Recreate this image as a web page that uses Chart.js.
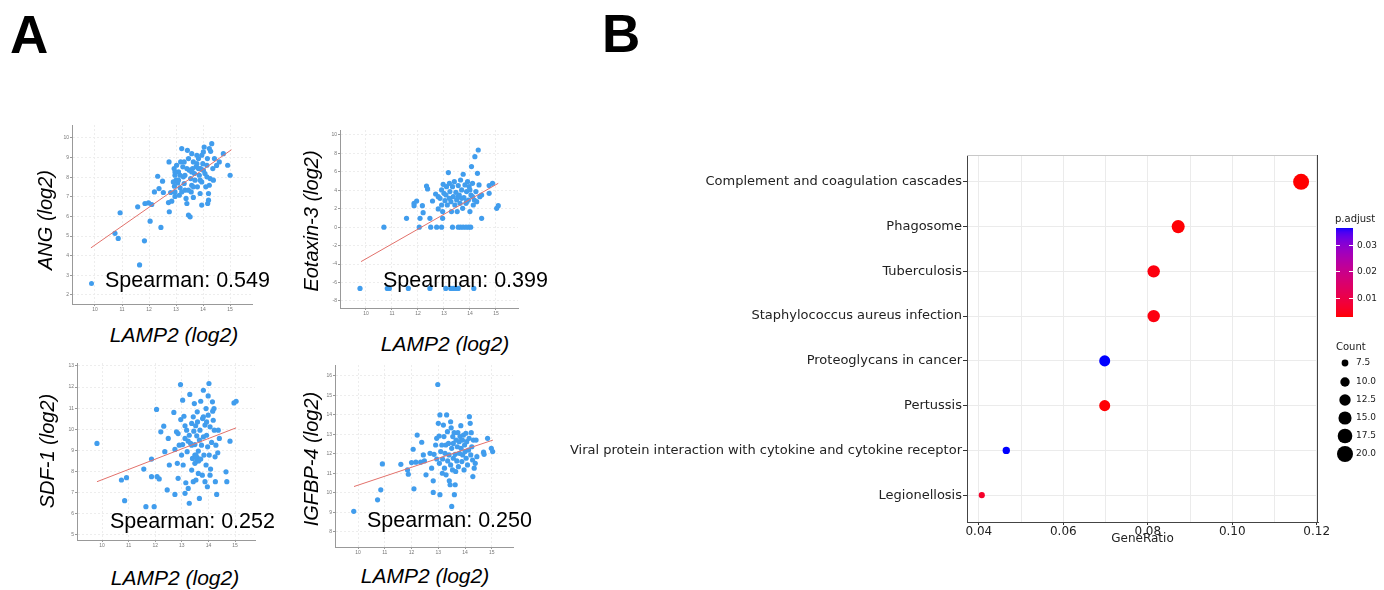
<!DOCTYPE html>
<html>
<head>
<meta charset="utf-8">
<script src="https://cdn.jsdelivr.net/npm/chart.js@4.4.1/dist/chart.umd.min.js"></script>
<style>
  body { margin: 0; background: #fff; width: 1384px; height: 590px; position: relative; overflow: hidden;
         font-family: "Liberation Sans", Arial, sans-serif; }
  canvas { position: absolute; }
  .lbl { position: absolute; white-space: nowrap; color: #000; line-height: 1; }
  .panel { font-weight: bold; font-size: 53px; line-height: 53px; }
  .ax { font-style: italic; font-size: 21px; transform: translate(-50%, -50%); }
  .ax.v { font-size: 20px; transform: translate(-50%, -50%) rotate(-90deg); }
  .sp { font-size: 21.5px; transform: translateY(-50%); }
  .dot { position: absolute; width: 5px; height: 5px; border-radius: 50%; background: #419ded; }
</style>
</head>
<body>
<div class="lbl panel" style="left:10px;top:8px">A</div>
<div class="lbl panel" style="left:602px;top:7px">B</div>

<canvas id="angChart"></canvas>
<canvas id="eotChart"></canvas>
<canvas id="sdfChart"></canvas>
<canvas id="igfChart"></canvas>
<canvas id="keggChart"></canvas>

<div class="lbl ax v" style="left:45px;top:220px">ANG (log2)</div>
<div class="lbl ax" style="left:174px;top:334px">LAMP2 (log2)</div>
<div class="lbl ax v" style="left:311px;top:221px">Eotaxin-3 (log2)</div>
<div class="lbl ax" style="left:445px;top:343px">LAMP2 (log2)</div>
<div class="lbl ax v" style="left:47px;top:451px">SDF-1 (log2)</div>
<div class="lbl ax" style="left:175px;top:577px">LAMP2 (log2)</div>
<div class="lbl ax v" style="left:311px;top:459px">IGFBP-4 (log2)</div>
<div class="lbl ax" style="left:425px;top:575px">LAMP2 (log2)</div>

<span class="dot" style="left:89px;top:281px"></span>
<div class="lbl sp" style="left:105px;top:281px">Spearman: 0.549</div>
<div class="lbl sp" style="left:383px;top:281px">Spearman: 0.399</div>
<div class="lbl sp" style="left:110px;top:522px">Spearman: 0.252</div>
<div class="lbl sp" style="left:367px;top:521px">Spearman: 0.250</div>

<script>
// ---- panel A: LAMP2 vs protein, [x, y] in log2 ----
const angPoints = [
  [11.65,3.53],[10.93,6.19],[10.74,5.14],[10.86,4.88],[11.83,4.76],[11.58,6.49],[11.85,6.66],[11.98,6.69],
  [12.10,6.61],[12.04,5.76],[12.44,5.44],[12.20,7.25],[12.32,8.05],[12.37,7.42],[12.50,7.80],[12.53,7.22],
  [12.72,6.71],[12.75,6.24],[12.74,8.78],[12.80,7.22],[12.84,6.78],[12.94,7.54],[12.96,7.02],[12.93,8.44],
  [12.96,8.10],[13.00,7.85],[13.02,8.61],[13.09,8.27],[13.06,7.71],[13.12,7.08],[13.15,7.46],[13.21,9.46],
  [13.17,8.78],[13.25,8.53],[13.27,8.02],[13.30,7.68],[13.33,7.34],[13.37,6.92],[13.40,6.66],[13.42,9.37],
  [13.46,8.95],[13.49,8.36],[13.46,6.07],[13.52,5.98],[13.54,7.93],[13.58,7.59],[13.56,7.25],[13.58,9.20],
  [13.64,8.78],[13.64,6.97],[13.68,8.19],[13.70,7.85],[13.74,8.53],[13.77,9.12],[13.79,7.51],[13.83,8.95],
  [13.86,8.10],[13.89,7.17],[13.91,8.44],[13.95,6.58],[13.95,7.76],[13.99,8.69],[14.01,9.29],[14.04,9.54],
  [14.07,8.19],[14.10,7.51],[14.14,8.61],[14.16,8.95],[14.17,6.66],[14.20,6.83],[14.23,9.46],[14.26,7.93],
  [14.28,9.32],[14.32,9.71],[14.36,8.44],[14.38,7.85],[14.42,8.95],[14.60,8.78],[14.75,9.20],[14.91,8.61],
  [15.00,8.10],[12.96,7.25],[13.30,8.78],[13.40,8.44],[13.15,8.10],[13.61,8.44],[13.83,8.44],[14.01,8.36],
  [13.89,7.85],[13.64,7.51],[13.46,7.34],[13.21,7.25],[14.14,8.02],[13.95,9.12],[13.77,8.69],[13.58,8.27],
  [13.33,8.10],[13.09,7.85],[12.90,7.76],[12.96,8.27],[14.50,8.60],[14.23,7.59],[14.20,7.17]
];
const angFit = [[9.85,4.40],[15.05,9.40]];

const eotaxinPoints = [
  [9.77,-6.64],[10.82,-6.64],[10.90,-6.64],[11.63,-6.64],[12.46,-6.64],[13.07,-6.64],[13.26,-6.64],[13.36,-6.64],
  [13.46,-6.64],[13.55,-6.64],[14.15,-6.64],
  [10.69,0],[12.05,0],[12.49,0],[12.72,0],[12.91,0],[13.33,0],[13.55,0],[13.64,0],[13.74,0],[13.85,0],[13.95,0],[14.03,0],
  [11.56,0.96],[12.08,0.96],[12.46,0.96],[12.95,0.96],[14.45,0.96],
  [11.85,2.59],[11.95,2.84],[11.85,2.34],[12.17,2.34],[12.20,1.58],[12.33,4.47],[12.37,4.15],[12.56,2.84],
  [12.68,3.60],[12.78,1.98],[12.85,3.13],[12.91,2.41],[12.95,1.69],[12.97,4.65],[13.00,3.67],[13.04,2.88],
  [13.08,3.49],[13.13,2.41],[13.17,5.92],[13.21,4.76],[13.23,3.86],[13.27,2.77],[13.29,1.69],[13.33,4.40],
  [13.36,3.31],[13.40,4.94],[13.42,2.41],[13.46,3.78],[13.49,2.95],[13.51,1.69],[13.55,4.51],[13.59,3.49],
  [13.62,2.59],[13.64,5.12],[13.68,4.04],[13.72,2.05],[13.74,5.74],[13.77,3.20],[13.81,4.58],[13.85,2.59],
  [13.87,3.86],[13.91,4.94],[13.94,2.95],[13.97,4.40],[14.00,1.69],[14.04,3.49],[14.06,6.57],[14.10,4.76],
  [14.13,2.41],[14.19,7.65],[14.23,3.86],[14.26,2.77],[14.29,5.84],[14.32,8.37],[14.35,4.58],[14.38,3.31],
  [14.45,3.49],[14.74,4.51],[14.74,3.67],[14.87,4.76],[15.03,2.05],[15.09,2.34],[12.91,4.04],[12.78,3.31],
  [13.10,4.40],[13.21,3.13],[13.55,3.31],[13.68,3.13],[13.87,2.77],[14.00,4.04],[14.10,3.31],[14.17,2.95]
];
const eotaxinFit = [[9.81,-3.73],[15.09,4.76]];

const sdfPoints = [
  [9.81,9.33],[10.73,7.60],[10.92,7.71],[10.85,6.62],[11.57,8.12],[11.65,6.34],[11.96,6.34],[11.86,8.59],
  [11.86,7.76],[12.05,10.94],[12.07,7.76],[12.15,7.65],[12.21,9.88],[12.32,10.15],[12.36,8.94],[12.45,7.13],
  [12.49,9.57],[12.53,8.31],[12.70,10.80],[12.74,9.05],[12.74,6.92],[12.80,9.88],[12.83,8.39],[12.86,9.80],
  [12.86,7.68],[12.90,9.25],[12.95,12.12],[12.96,10.46],[12.99,8.78],[13.03,11.38],[13.03,9.28],[13.05,8.31],
  [13.08,10.62],[13.12,10.17],[13.12,9.57],[13.12,6.97],[13.15,7.47],[13.18,9.96],[13.20,8.94],[13.24,7.20],
  [13.28,9.72],[13.28,6.50],[13.30,11.65],[13.33,9.33],[13.37,10.28],[13.37,8.07],[13.40,8.62],[13.43,10.59],
  [13.43,7.52],[13.45,9.91],[13.47,11.22],[13.49,9.28],[13.49,8.78],[13.52,10.17],[13.53,7.60],[13.56,9.69],
  [13.56,8.50],[13.58,10.83],[13.59,10.35],[13.62,8.97],[13.62,7.91],[13.66,9.49],[13.66,6.73],[13.68,9.96],
  [13.71,11.33],[13.71,8.59],[13.74,9.25],[13.77,7.83],[13.78,10.51],[13.81,11.85],[13.81,9.64],[13.83,8.78],
  [13.87,10.20],[13.87,7.52],[13.91,10.98],[13.91,8.31],[13.93,9.72],[13.96,7.28],[13.97,9.17],[13.99,11.58],
  [13.99,10.67],[14.02,12.17],[14.03,8.78],[14.06,10.12],[14.06,7.83],[14.08,8.12],[14.12,9.38],[14.15,11.30],
  [14.16,10.86],[14.18,10.43],[14.21,10.98],[14.22,9.96],[14.25,8.70],[14.26,7.52],[14.28,9.25],[14.31,6.92],
  [14.35,8.89],[14.37,9.96],[14.41,9.57],[14.66,7.99],[14.69,7.52],[14.81,9.44],[14.96,11.25],[15.04,11.33],
  [13.58,8.66],[13.53,8.78],[13.63,8.50],[13.49,8.39],[13.37,9.25],[13.24,9.44],[13.93,10.35],[13.81,10.59]
];
const sdfFit = [[9.81,7.52],[15.04,10.07]];

const igfbpPoints = [
  [9.84,9.06],[10.73,9.65],[10.85,10.16],[10.91,11.49],[11.60,11.47],[11.85,11.18],[11.88,10.96],[12.00,11.56],
  [12.06,12.24],[12.09,10.21],[12.16,11.58],[12.21,12.97],[12.34,11.58],[12.38,12.60],[12.44,11.95],[12.48,11.64],
  [12.54,10.93],[12.69,12.03],[12.75,11.27],[12.81,10.62],[12.81,10.03],[12.84,11.98],[12.90,12.46],[12.94,12.80],
  [12.94,11.74],[12.98,15.56],[13.00,13.57],[13.03,12.92],[13.04,11.52],[13.06,14.00],[13.06,9.91],[13.09,12.12],
  [13.13,12.46],[13.15,11.01],[13.16,11.74],[13.19,13.48],[13.21,12.89],[13.23,11.27],[13.25,12.03],[13.28,12.46],
  [13.29,10.93],[13.31,14.00],[13.34,13.14],[13.35,11.64],[13.38,12.54],[13.40,11.95],[13.41,10.62],[13.44,10.42],
  [13.46,13.65],[13.46,11.44],[13.48,13.34],[13.50,12.29],[13.50,9.31],[13.53,11.18],[13.54,12.89],[13.56,11.78],
  [13.56,12.54],[13.59,13.09],[13.60,9.91],[13.63,11.98],[13.63,10.42],[13.65,11.10],[13.66,12.71],[13.69,11.64],
  [13.71,12.37],[13.73,13.09],[13.75,11.35],[13.78,12.63],[13.79,12.03],[13.81,12.89],[13.84,13.45],[13.85,12.29],
  [13.88,11.61],[13.90,12.71],[13.91,11.95],[13.94,12.97],[13.96,11.18],[13.98,12.46],[14.00,12.12],[14.03,13.06],
  [14.04,11.78],[14.06,12.63],[14.09,11.44],[14.13,12.20],[14.15,12.80],[14.16,13.91],[14.19,13.57],[14.21,11.95],
  [14.23,13.09],[14.25,12.37],[14.28,11.69],[14.29,10.84],[14.31,12.71],[14.34,11.27],[14.38,11.52],[14.41,12.71],
  [14.44,11.86],[14.69,12.09],[14.71,11.98],[14.84,12.80],[14.98,12.29],[15.03,12.12]
];
const igfbpFit = [[9.85,10.33],[15.04,12.71]];

const lampTicks = [10, 11, 12, 13, 14, 15];
const angTicks = [2, 3, 4, 5, 6, 7, 8, 9, 10];
const eotaxinTicks = [-8, -6, -4, -2, 0, 2, 4, 6, 8, 10];
const sdfTicks = [5, 6, 7, 8, 9, 10, 11, 12, 13];
const igfbpTicks = [8, 9, 10, 11, 12, 13, 14, 15, 16];

// ---- panel B: KEGG enrichment ----
const pathways = [
  'Complement and coagulation cascades', 'Phagosome', 'Tuberculosis', 'Staphylococcus aureus infection',
  'Proteoglycans in cancer', 'Pertussis', 'Viral protein interaction with cytokine and cytokine receptor',
  'Legionellosis'
];
const geneRatio = [0.1163, 0.0872, 0.0814, 0.0814, 0.0698, 0.0698, 0.0465, 0.0407];
const geneCount = [20, 15, 14, 14, 12, 12, 8, 7];
const pAdjust = [0.0028, 0.0030, 0.0036, 0.0036, 0.0364, 0.0030, 0.0364, 0.0062];
const ratioTicks = [0.04, 0.05, 0.06, 0.07, 0.08, 0.09, 0.10, 0.11, 0.12];
const pLegendTicks = [0.01, 0.02, 0.03];
const countLegend = [7.5, 10.0, 12.5, 15.0, 17.5, 20.0];
const pRange = [0.0028, 0.0364];

Chart.defaults.font.family = '"Liberation Sans", Arial, sans-serif';

function scatterPanel(id, area, pts, fit, xr, yr, xTicks, yTicks) {
  const c = document.getElementById(id);
  const padL = 20, padB = 12;
  c.style.left = (area[0] - padL) + 'px';
  c.style.top = (area[1] - 5) + 'px';
  c.width = area[2] - area[0] + padL + 5;
  c.height = area[3] - area[1] + 5 + padB;
  const axisStyle = {
    grid: { color: '#ededed', tickLength: 2, tickColor: '#999' },
    border: { color: '#999', dash: [2, 2] },
    ticks: { font: { size: 5 }, color: '#777', padding: 1, autoSkip: false, maxRotation: 0 }
  };
  new Chart(c, {
    type: 'scatter',
    data: {
      datasets: [
        { data: pts.map(p => ({ x: p[0], y: p[1] })), backgroundColor: '#419ded', borderWidth: 0,
          pointRadius: 2.6, order: 2 },
        { type: 'line', data: fit.map(p => ({ x: p[0], y: p[1] })), borderColor: '#e2716b',
          borderWidth: 1, pointRadius: 0, order: 1 }
      ]
    },
    options: {
      responsive: false, animation: false,
      plugins: { legend: { display: false }, tooltip: { enabled: false } },
      layout: { padding: { top: 5, right: 5, left: 0, bottom: 0 } },
      scales: {
        x: Object.assign({ type: 'linear', min: xr[0], max: xr[1],
          afterFit: s => { s.height = padB; },
          afterBuildTicks: s => { s.ticks = xTicks.map(v => ({ value: v })); } }, axisStyle),
        y: Object.assign({ type: 'linear', min: yr[0], max: yr[1],
          afterFit: s => { s.width = padL; },
          afterBuildTicks: s => { s.ticks = yTicks.map(v => ({ value: v })); } }, axisStyle)
      }
    }
  });
}

scatterPanel('angChart', [72, 125, 252, 304], angPoints, angFit, [9.15, 15.81], [1.54, 10.66], lampTicks, angTicks);
scatterPanel('eotChart', [340, 130, 518, 308], eotaxinPoints, eotaxinFit, [9.0, 15.85], [-8.76, 10.54], lampTicks, eotaxinTicks);
scatterPanel('sdfChart', [77, 363, 255, 540], sdfPoints, sdfFit, [9.06, 15.75], [4.76, 13.14], lampTicks, sdfTicks);
scatterPanel('igfChart', [335, 365, 513, 547], igfbpPoints, igfbpFit, [9.14, 15.79], [7.23, 16.56], lampTicks, igfbpTicks);

// red -> blue gradient interpolated in CIELAB, like ggplot
function toLin(c) { c /= 255; return c <= 0.04045 ? c / 12.92 : Math.pow((c + 0.055) / 1.055, 2.4); }
function toSrgb(c) {
  c = c <= 0.0031308 ? 12.92 * c : 1.055 * Math.pow(c, 1 / 2.4) - 0.055;
  return Math.round(Math.max(0, Math.min(1, c)) * 255);
}
function rgbToLab(r, g, b) {
  const R = toLin(r), G = toLin(g), B = toLin(b);
  const X = (0.4124 * R + 0.3576 * G + 0.1805 * B) / 0.95047;
  const Y = 0.2126 * R + 0.7152 * G + 0.0722 * B;
  const Z = (0.0193 * R + 0.1192 * G + 0.9505 * B) / 1.08883;
  const f = t => t > 0.008856 ? Math.cbrt(t) : 7.787 * t + 16 / 116;
  return [116 * f(Y) - 16, 500 * (f(X) - f(Y)), 200 * (f(Y) - f(Z))];
}
function labToRgb(L, a, b) {
  const fy = (L + 16) / 116, fx = fy + a / 500, fz = fy - b / 200;
  const inv = t => t * t * t > 0.008856 ? t * t * t : (t - 16 / 116) / 7.787;
  const X = inv(fx) * 0.95047, Y = inv(fy), Z = inv(fz) * 1.08883;
  const R = 3.2406 * X - 1.5372 * Y - 0.4986 * Z;
  const G = -0.9689 * X + 1.8758 * Y + 0.0415 * Z;
  const B = 0.0557 * X - 0.2040 * Y + 1.0570 * Z;
  return 'rgb(' + toSrgb(R) + ',' + toSrgb(G) + ',' + toSrgb(B) + ')';
}
const labLow = rgbToLab(255, 0, 0), labHigh = rgbToLab(0, 0, 255);
function pColor(p) {
  const t = Math.max(0, Math.min(1, (p - pRange[0]) / (pRange[1] - pRange[0])));
  return labToRgb(labLow[0] + (labHigh[0] - labLow[0]) * t,
                  labLow[1] + (labHigh[1] - labLow[1]) * t,
                  labLow[2] + (labHigh[2] - labLow[2]) * t);
}
function countRadius(n) { return Math.sqrt(4.2 * n - 20); }

const keggLegend = {
  id: 'keggLegend',
  afterDraw(chart) {
    const ctx = chart.ctx;
    const a = chart.chartArea;
    ctx.save();
    // panel border
    ctx.lineWidth = 1;
    ctx.strokeStyle = '#c8c8c8';
    ctx.beginPath(); ctx.moveTo(a.left, a.top + 0.5); ctx.lineTo(a.right, a.top + 0.5); ctx.stroke();
    ctx.strokeStyle = '#444';
    ctx.beginPath(); ctx.moveTo(a.right - 0.5, a.top); ctx.lineTo(a.right - 0.5, a.bottom); ctx.stroke();

    // colour bar
    const bx = 776, bw = 17, bTop = 88, bBot = 177;
    const pToY = p => bBot - (p - pRange[0]) / (pRange[1] - pRange[0]) * (bBot - bTop);
    for (let y = bTop; y < bBot; y++) {
      const p = pRange[0] + (bBot - y - 0.5) / (bBot - bTop) * (pRange[1] - pRange[0]);
      ctx.fillStyle = pColor(p);
      ctx.fillRect(bx, y, bw, 1);
    }
    ctx.strokeStyle = '#fff';
    ctx.font = '9px "DejaVu Sans"';
    ctx.fillStyle = '#1a1a1a';
    ctx.textBaseline = 'middle';
    ctx.textAlign = 'left';
    pLegendTicks.forEach(p => {
      const y = Math.round(pToY(p)) + 0.5;
      ctx.beginPath(); ctx.moveTo(bx, y); ctx.lineTo(bx + 4, y); ctx.moveTo(bx + bw - 4, y); ctx.lineTo(bx + bw, y); ctx.stroke();
      ctx.fillText(p.toFixed(2), bx + bw + 4, y);
    });
    ctx.font = '10px "DejaVu Sans"';
    ctx.fillText('p.adjust', 775, 79);

    // size legend
    ctx.fillText('Count', 776, 207);
    ctx.font = '9px "DejaVu Sans"';
    const rowY = [223, 242, 260, 278, 296, 314];
    countLegend.forEach((n, i) => {
      ctx.fillStyle = '#000';
      ctx.beginPath(); ctx.arc(785, rowY[i], countRadius(n), 0, Math.PI * 2); ctx.fill();
      ctx.fillStyle = '#1a1a1a';
      ctx.fillText(n.toFixed(1), 796, rowY[i]);
    });
    ctx.restore();
  }
};

const kc = document.getElementById('keggChart');
kc.style.left = '560px';
kc.style.top = '140px';
kc.width = 824;
kc.height = 420;
new Chart(kc, {
  type: 'scatter',
  data: {
    datasets: [{
      data: geneRatio.map((r, i) => ({ x: r, y: i })),
      pointRadius: geneCount.map(countRadius),
      backgroundColor: pAdjust.map(pColor),
      borderWidth: 0
    }]
  },
  options: {
    responsive: false, animation: false,
    plugins: { legend: { display: false }, tooltip: { enabled: false } },
    layout: { padding: { top: 15, right: 66, left: 0, bottom: 0 } },
    scales: {
      x: {
        type: 'linear', min: 0.0372, max: 0.1203,
        afterFit: s => { s.height = 38; },
        afterBuildTicks: s => { s.ticks = ratioTicks.map(v => ({ value: v })); },
        grid: { color: '#ebebeb', tickLength: 3, tickColor: c => (c.index % 2 === 0 ? '#333' : 'rgba(0,0,0,0)') },
        border: { color: '#444' },
        ticks: { font: { family: '"DejaVu Sans"', size: 12 }, color: '#222', padding: 0, autoSkip: false, maxRotation: 0,
                 callback: (v, i) => (i % 2 === 0 ? v.toFixed(2) : '') },
        title: { display: true, text: 'GeneRatio', font: { family: '"DejaVu Sans"', size: 12 }, color: '#222',
                 padding: { top: 0, bottom: 14 } }
      },
      y: {
        type: 'linear', reverse: true, min: -0.6, max: pathways.length - 0.4,
        afterFit: s => { s.width = 407; },
        afterBuildTicks: s => { s.ticks = pathways.map((p, i) => ({ value: i })); },
        grid: { color: '#ebebeb', tickLength: 4, tickColor: '#333' },
        border: { color: '#444' },
        ticks: { font: { family: '"DejaVu Sans"', size: 13 }, color: '#222', padding: 1, autoSkip: false,
                 callback: v => pathways[v] }
      }
    }
  },
  plugins: [keggLegend]
});
</script>
</body>
</html>
